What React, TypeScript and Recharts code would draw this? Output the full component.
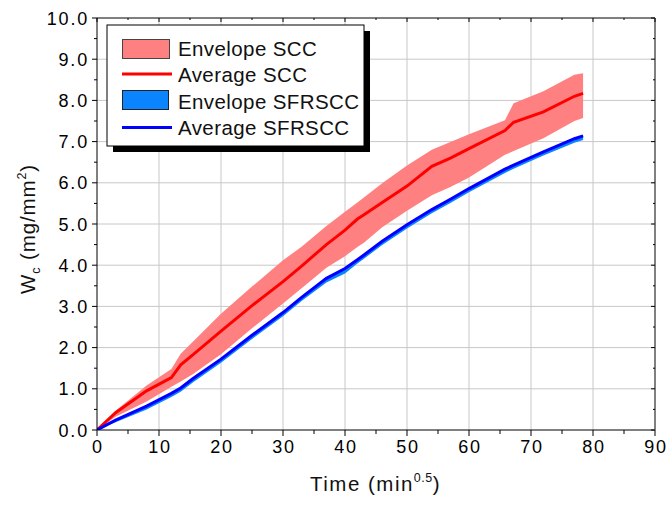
import React from "react";
import { ComposedChart, Area, Line, XAxis, YAxis, CartesianGrid } from "recharts";

const time = [0, 3, 8, 12, 13.5, 15.5, 20, 25, 30, 33, 37, 40, 42, 43, 46, 50, 54, 57, 60, 65.8, 67.2, 72, 77, 78.4];
const sccAvg = [0, 0.42, 0.95, 1.27, 1.58, 1.83, 2.4, 3.02, 3.6, 3.98, 4.5, 4.85, 5.12, 5.22, 5.52, 5.92, 6.4, 6.6, 6.83, 7.27, 7.47, 7.72, 8.1, 8.17];
const sccHi = [0, 0.47, 1.08, 1.48, 1.85, 2.15, 2.82, 3.48, 4.12, 4.45, 4.95, 5.3, 5.52, 5.64, 5.99, 6.42, 6.8, 6.99, 7.18, 7.52, 7.93, 8.22, 8.62, 8.66];
const sccLo = [0, 0.32, 0.69, 1.05, 1.18, 1.36, 1.84, 2.47, 3.07, 3.44, 3.94, 4.22, 4.44, 4.54, 4.92, 5.32, 5.7, 5.9, 6.13, 6.68, 6.77, 7.08, 7.5, 7.57];
const sfrAvg = [0, 0.24, 0.58, 0.89, 1.02, 1.25, 1.72, 2.3, 2.85, 3.22, 3.68, 3.92, 4.13, 4.24, 4.58, 4.98, 5.35, 5.6, 5.86, 6.33, 6.43, 6.75, 7.07, 7.14];
const sfrLo = [0, 0.19, 0.5, 0.8, 0.93, 1.16, 1.63, 2.21, 2.76, 3.13, 3.58, 3.8, 4.04, 4.15, 4.49, 4.89, 5.26, 5.51, 5.77, 6.24, 6.34, 6.66, 6.97, 7.04];
const sfrHi = [0, 0.26, 0.6, 0.91, 1.04, 1.27, 1.74, 2.32, 2.87, 3.24, 3.7, 3.94, 4.15, 4.26, 4.6, 5.0, 5.37, 5.62, 5.88, 6.35, 6.45, 6.77, 7.09, 7.16];

const xTicks = [0, 5, 10, 15, 20, 25, 30, 35, 40, 45, 50, 55, 60, 65, 70, 75, 80, 85, 90];
const yTicks = [0, 0.5, 1, 1.5, 2, 2.5, 3, 3.5, 4, 4.5, 5, 5.5, 6, 6.5, 7, 7.5, 8, 8.5, 9, 9.5, 10];
const xGrid = [10, 20, 30, 40, 50, 60, 70, 80];
const yGrid = [1, 2, 3, 4, 5, 6, 7, 8, 9];

const legendItems = ["Envelope SCC", "Average SCC", "Envelope SFRSCC", "Average SFRSCC"];

const data = time.map((t, i) => ({
  t,
  sccAvg: sccAvg[i],
  sccRange: [sccLo[i], sccHi[i]],
  sfrAvg: sfrAvg[i],
  sfrRange: [sfrLo[i], sfrHi[i]],
}));

const FONT = "'Liberation Sans', Arial, sans-serif";

const isMajor = (v: number, step: number) => Math.abs(v / step - Math.round(v / step)) < 1e-6;

const YTickLeft = (props: any) => {
  const { x, y, payload } = props;
  const v = payload.value as number;
  const major = isMajor(v, 1);
  return (
    <g>
      <line x1={x} x2={x - (major ? 5 : 3)} y1={y} y2={y} stroke="#000" strokeWidth={1} />
      {major && (
        <text x={x - 8} y={y + 6.5} textAnchor="end" fontFamily={FONT} fontSize={18} letterSpacing={1.8} fill="#000">
          {v.toFixed(1)}
        </text>
      )}
    </g>
  );
};

const YTickRight = (props: any) => {
  const { x, y, payload } = props;
  const v = payload.value as number;
  const major = isMajor(v, 1);
  return <line x1={x} x2={x - (major ? 4 : 2)} y1={y} y2={y} stroke="#000" strokeWidth={1} />;
};

const XTickBottom = (props: any) => {
  const { x, y, payload } = props;
  const v = payload.value as number;
  const major = isMajor(v, 10);
  return (
    <g>
      <line x1={x} x2={x} y1={y} y2={y + (major ? 6 : 4)} stroke="#000" strokeWidth={1} />
      {major && (
        <text x={x + 1} y={y + 23} textAnchor="middle" fontFamily={FONT} fontSize={18} letterSpacing={1.8} fill="#000">
          {String(v)}
        </text>
      )}
    </g>
  );
};

const XTickTop = (props: any) => {
  const { x, y, payload } = props;
  const v = payload.value as number;
  const major = isMajor(v, 10);
  return <line x1={x} x2={x} y1={y} y2={y + (major ? 4 : 2)} stroke="#000" strokeWidth={1} />;
};

export default function App() {
  return (
    <div style={{ position: "absolute", left: 0, top: 0, width: 667, height: 506, background: "#fff" }}>
      <ComposedChart width={667} height={506} data={data} margin={{ top: 0, right: 0, bottom: 0, left: 0 }}>
        <CartesianGrid
          stroke="#c8c8c8"
          strokeWidth={1}
          horizontalValues={yGrid}
          verticalValues={xGrid}
          syncWithTicks={false}
        />
        <XAxis
          dataKey="t"
          type="number"
          domain={[0, 90]}
          ticks={xTicks}
          interval={0}
          height={76}
          tickSize={0}
          tickMargin={0}
          tickLine={false}
          axisLine={{ stroke: "#000", strokeWidth: 1 }}
          tick={<XTickBottom />}
          allowDataOverflow
        />
        <XAxis
          xAxisId="top"
          orientation="top"
          dataKey="t"
          type="number"
          domain={[0, 90]}
          ticks={xTicks}
          interval={0}
          height={18}
          tickSize={0}
          tickMargin={0}
          tickLine={false}
          axisLine={{ stroke: "#000", strokeWidth: 1 }}
          tick={<XTickTop />}
          allowDataOverflow
        />
        <YAxis
          type="number"
          domain={[0, 10]}
          ticks={yTicks}
          interval={0}
          width={97}
          tickSize={0}
          tickMargin={0}
          tickLine={false}
          axisLine={{ stroke: "#000", strokeWidth: 1 }}
          tick={<YTickLeft />}
          allowDataOverflow
        />
        <YAxis
          yAxisId="right"
          orientation="right"
          type="number"
          domain={[0, 10]}
          ticks={yTicks}
          interval={0}
          width={12}
          tickSize={0}
          tickMargin={0}
          tickLine={false}
          axisLine={{ stroke: "#808080", strokeWidth: 2 }}
          tick={<YTickRight />}
          allowDataOverflow
        />
        <Area
          type="linear"
          dataKey="sccRange"
          stroke="none"
          fill="#FF8080"
          fillOpacity={1}
          isAnimationActive={false}
          activeDot={false}
        />
        <Line
          type="linear"
          dataKey="sccAvg"
          stroke="#FF0000"
          strokeWidth={3}
          dot={false}
          activeDot={false}
          isAnimationActive={false}
        />
        <Area
          type="linear"
          dataKey="sfrRange"
          stroke="none"
          fill="#0A84FF"
          fillOpacity={1}
          isAnimationActive={false}
          activeDot={false}
        />
        <Line
          type="linear"
          dataKey="sfrAvg"
          stroke="#0000FF"
          strokeWidth={3}
          dot={false}
          activeDot={false}
          isAnimationActive={false}
        />
      </ComposedChart>
      <svg
        width={667}
        height={506}
        style={{ position: "absolute", left: 0, top: 0, pointerEvents: "none" }}
      >
        {/* Legend */}
        <rect x={113} y={31} width={257} height={121} fill="#000" />
        <rect x={107} y={25} width={257} height={121} fill="#fff" stroke="#000" strokeWidth={1} />
        <rect x={122.5} y={39.5} width={47} height={19} fill="#FF8080" stroke="#444" strokeWidth={1} />
        <line x1={122} x2={172} y1={74} y2={74} stroke="#FF0000" strokeWidth={3} />
        <rect x={122.5} y={90.5} width={46} height={19} fill="#0A84FF" stroke="#222" strokeWidth={1} />
        <line x1={122} x2={172} y1={127.5} y2={127.5} stroke="#0000FF" strokeWidth={3} />
        <text x={178} y={55.5} fontFamily={FONT} fontSize={20.5} letterSpacing={0.4} fill="#111">{legendItems[0]}</text>
        <text x={178} y={82} fontFamily={FONT} fontSize={20.5} letterSpacing={0.4} fill="#111">{legendItems[1]}</text>
        <text x={178} y={108.5} fontFamily={FONT} fontSize={20.5} letterSpacing={0.4} fill="#111">{legendItems[2]}</text>
        <text x={178} y={135} fontFamily={FONT} fontSize={20.5} letterSpacing={0.4} fill="#111">{legendItems[3]}</text>
        {/* X axis title */}
        <text x={310} y={491} fontFamily={FONT} fontSize={20.5} letterSpacing={1.5} fill="#111">
          Time (min
          <tspan dy={-9} fontSize={12.5} letterSpacing={0.5}>0.5</tspan>
          <tspan dy={9}>)</tspan>
        </text>
        {/* Y axis title */}
        <text
          transform="translate(35,229) rotate(-90)"
          textAnchor="middle"
          fontFamily={FONT}
          fontSize={20.5}
          letterSpacing={0.9}
          fill="#111"
        >
          W
          <tspan dy={5} fontSize={12.5}>c</tspan>
          <tspan dy={-5}> (mg/mm</tspan>
          <tspan dy={-9} fontSize={12.5}>2</tspan>
          <tspan dy={9}>)</tspan>
        </text>
      </svg>
    </div>
  );
}
